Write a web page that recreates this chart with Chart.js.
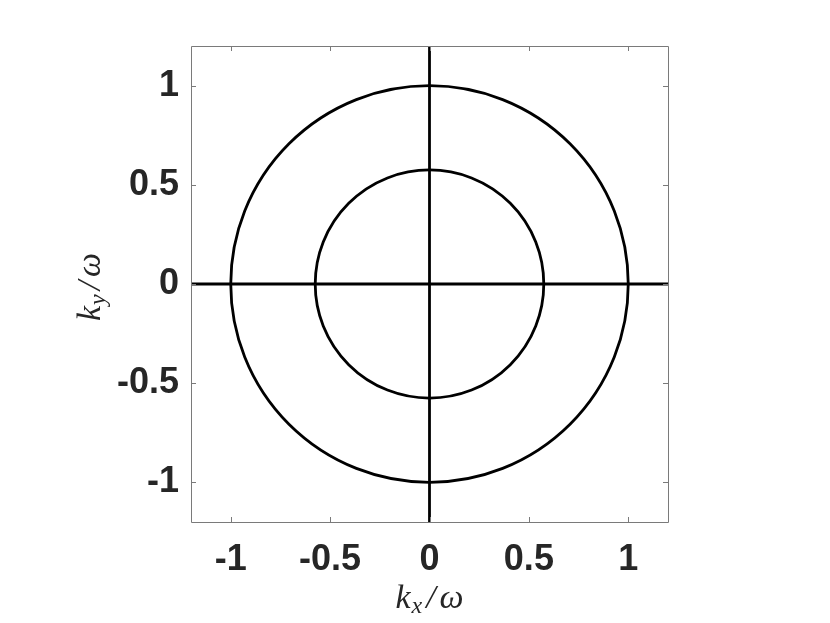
<!DOCTYPE html>
<html>
<head>
<meta charset="utf-8">
<script src="https://cdn.jsdelivr.net/npm/chart.js@4.4.1/dist/chart.umd.min.js"></script>
<style>
  html, body { margin: 0; padding: 0; background: #fff; }
  #wrap { width: 830px; height: 623px; }
</style>
</head>
<body>
<div id="wrap"><canvas id="dispersionChart"></canvas></div>
<script>
// axis range and ticks
const axisMin = -1.2;
const axisMax = 1.2;
const xTicks = [-1, -0.5, 0, 0.5, 1];
const yTicks = [-1, -0.5, 0, 0.5, 1];
const tickLabels = { '-1': '-1', '-0.5': '-0.5', '0': '0', '0.5': '0.5', '1': '1' };

// circle radii (k/omega)
const circleRadii = [1, 0.575];

// straight lines through the origin
const horizontalLine = [{ x: -1.2, y: 0 }, { x: 1.2, y: 0 }];
const verticalLine = [{ x: 0, y: -1.2 }, { x: 0, y: 1.2 }];

const lineColor = '#000000';
const lineWidth = 2.8;

// Frame, inward tick marks, circles and axis titles
const framePlugin = {
    id: 'framePlugin',
    beforeDatasetsDraw: function(chart) {
        const ctx = chart.ctx;
        const xs = chart.scales.x;
        const ys = chart.scales.y;
        const x0 = xs.getPixelForValue(0);
        const y0 = ys.getPixelForValue(0);
        ctx.save();
        ctx.beginPath();
        ctx.rect(chart.chartArea.left, chart.chartArea.top,
                 chart.chartArea.right - chart.chartArea.left,
                 chart.chartArea.bottom - chart.chartArea.top);
        ctx.clip();
        ctx.strokeStyle = lineColor;
        ctx.lineWidth = lineWidth;
        circleRadii.forEach(function(r) {
            const rx = xs.getPixelForValue(r) - x0;
            const ry = y0 - ys.getPixelForValue(r);
            ctx.beginPath();
            ctx.ellipse(x0, y0, rx, ry, 0, 0, Math.PI * 2);
            ctx.stroke();
        });
        ctx.restore();
    },
    afterDraw: function(chart) {
        const ctx = chart.ctx;
        const a = chart.chartArea;
        const xs = chart.scales.x;
        const ys = chart.scales.y;
        const tl = 5;
        ctx.save();
        ctx.strokeStyle = '#7a7a7a';
        ctx.lineWidth = 1;
        ctx.beginPath();
        ctx.rect(Math.round(a.left) + 0.5, Math.round(a.top) + 0.5,
                 Math.round(a.right - a.left), Math.round(a.bottom - a.top));
        xTicks.forEach(function(v) {
            const px = Math.round(xs.getPixelForValue(v)) + 0.5;
            ctx.moveTo(px, a.bottom);
            ctx.lineTo(px, a.bottom - tl);
            ctx.moveTo(px, a.top);
            ctx.lineTo(px, a.top + tl);
        });
        yTicks.forEach(function(v) {
            const py = Math.round(ys.getPixelForValue(v)) + 0.5;
            ctx.moveTo(a.left, py);
            ctx.lineTo(a.left + tl, py);
            ctx.moveTo(a.right, py);
            ctx.lineTo(a.right - tl, py);
        });
        ctx.stroke();

        // axis titles: k_x / omega and k_y / omega
        function drawTitle(sub) {
            const big = 'italic 34px "Liberation Serif"';
            const small = 'italic 24px "Liberation Serif"';
            ctx.font = big;
            const wk = ctx.measureText('k').width;
            const wSlash = ctx.measureText('/').width;
            const wOmega = ctx.measureText('\u03C9').width;
            ctx.font = small;
            const ws = ctx.measureText(sub).width;
            const total = wk + 1 + ws + 4 + wSlash + 4 + wOmega;
            let x = -total / 2;
            ctx.fillStyle = '#262626';
            ctx.textBaseline = 'alphabetic';
            ctx.textAlign = 'left';
            ctx.font = big;
            ctx.fillText('k', x, 0);
            x += wk + 1;
            ctx.font = small;
            ctx.fillText(sub, x, 5);
            x += ws + 4;
            ctx.font = big;
            ctx.fillText('/', x, 0);
            x += wSlash + 4;
            ctx.fillText('\u03C9', x, 0);
        }
        ctx.save();
        ctx.translate((a.left + a.right) / 2, 608);
        drawTitle('x');
        ctx.restore();
        ctx.save();
        ctx.translate(100, (a.top + a.bottom) / 2 + 3);
        ctx.rotate(-Math.PI / 2);
        drawTitle('y');
        ctx.restore();
        ctx.restore();
    }
};

document.addEventListener('DOMContentLoaded', function() {
    const ctx = document.getElementById('dispersionChart');
    const tickFont = { family: '"Liberation Sans", Arial, sans-serif', size: 36, weight: 'bold' };

    new Chart(ctx.getContext('2d'), {
        type: 'scatter',
        data: {
            datasets: [{
                data: horizontalLine,
                showLine: true,
                borderColor: lineColor,
                borderWidth: lineWidth,
                pointRadius: 0,
                fill: false
            }, {
                data: verticalLine,
                showLine: true,
                borderColor: lineColor,
                borderWidth: lineWidth,
                pointRadius: 0,
                fill: false
            }]
        },
        options: {
            responsive: true,
            maintainAspectRatio: false,
            animation: false,
            layout: {
                padding: { left: 0, right: 162, top: 46, bottom: 0 }
            },
            plugins: {
                legend: { display: false },
                tooltip: { enabled: false }
            },
            scales: {
                x: {
                    type: 'linear',
                    min: axisMin,
                    max: axisMax,
                    grid: { display: false, drawTicks: false },
                    border: { display: false },
                    afterBuildTicks: function(scale) {
                        scale.ticks = xTicks.map(function(v) { return { value: v }; });
                    },
                    afterFit: function(scale) {
                        scale.height = 101;
                    },
                    ticks: {
                        autoSkip: false,
                        maxRotation: 0,
                        padding: 16,
                        color: '#262626',
                        font: tickFont,
                        callback: function(value) {
                            return tickLabels[String(value)];
                        }
                    }
                },
                y: {
                    type: 'linear',
                    min: axisMin,
                    max: axisMax,
                    grid: { display: false, drawTicks: false },
                    border: { display: false },
                    afterBuildTicks: function(scale) {
                        scale.ticks = yTicks.map(function(v) { return { value: v }; });
                    },
                    afterFit: function(scale) {
                        scale.width = 191;
                    },
                    ticks: {
                        autoSkip: false,
                        padding: 12,
                        color: '#262626',
                        font: tickFont,
                        callback: function(value) {
                            return tickLabels[String(value)];
                        }
                    }
                }
            }
        },
        plugins: [framePlugin]
    });
});
</script>
</body>
</html>
